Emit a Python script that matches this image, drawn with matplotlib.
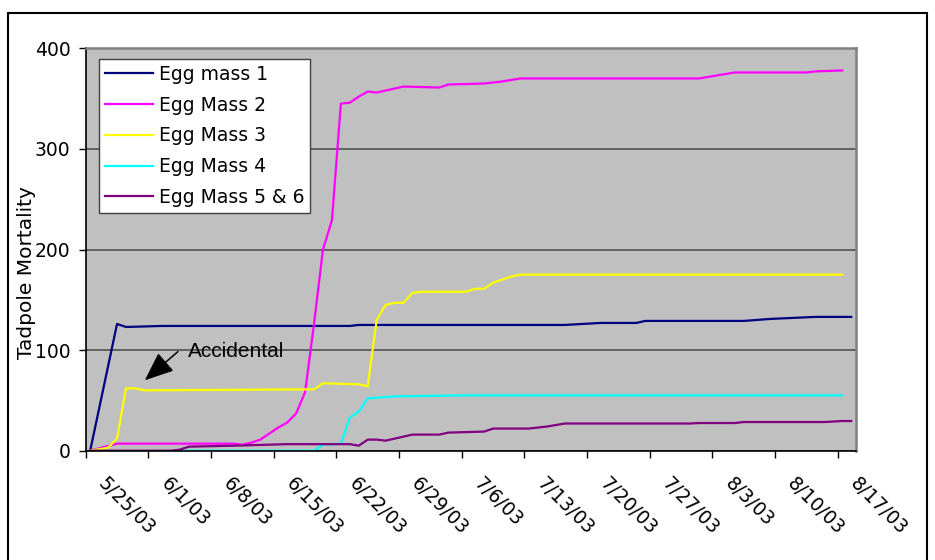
import numpy as np
import matplotlib
matplotlib.use("Agg")
import matplotlib.pyplot as plt
import matplotlib.transforms as mtransforms
from matplotlib.patches import Rectangle

# day offsets from 5/25/03
EGG1_DAY = [0, 3, 4, 8, 29, 30, 53, 57, 61, 62, 73, 76, 81, 85]
EGG1_VAL = [0, 126, 123, 124, 124, 125, 125, 127, 127, 129, 129, 131, 133, 133]

EGG2_DAY = [0, 3, 16, 17, 18, 19, 20, 21, 22, 23, 24, 25, 26, 27, 28, 29, 30, 31,
            32, 35, 39, 40, 44, 46, 48, 68, 72, 80, 81, 84]
EGG2_VAL = [0, 7, 7, 6, 8, 11, 17, 23, 28, 37, 58, 126, 200, 229, 345, 346, 352, 357,
            356, 362, 361, 364, 365, 367, 370, 370, 376, 376, 377, 378]

EGG3_DAY = [0, 2, 3, 4, 5, 6, 25, 26, 30, 31, 32, 33, 34, 35, 36, 37, 42, 43, 44,
            45, 46, 47, 48, 84]
EGG3_VAL = [0, 3, 12, 62, 62, 60, 61, 67, 66, 64, 130, 145, 147, 147, 157, 158, 158,
            161, 161, 167, 170, 173, 175, 175]

EGG4_DAY = [10, 25, 26, 28, 29, 30, 31, 34, 42, 84]
EGG4_VAL = [0, 0, 6, 7, 33, 39, 52, 54, 55, 55]

EGG5_DAY = [0, 9, 10, 11, 16, 22, 29, 30, 31, 32, 33, 34, 36, 39, 40, 44, 45, 49,
            51, 53, 67, 68, 72, 73, 82, 84, 85]
EGG5_VAL = [0, 0, 1, 4, 5, 6.5, 6.5, 5, 11, 11, 10, 12, 16, 16, 18, 19, 22, 22,
            24, 27, 27, 27.5, 27.5, 28.5, 28.5, 29.5, 29.5]

SERIES = [
    ("Egg mass 1", EGG1_DAY, EGG1_VAL, "#000080"),
    ("Egg Mass 2", EGG2_DAY, EGG2_VAL, "#FF00FF"),
    ("Egg Mass 3", EGG3_DAY, EGG3_VAL, "#FFFF00"),
    ("Egg Mass 4", EGG4_DAY, EGG4_VAL, "#00FFFF"),
    ("Egg Mass 5 & 6", EGG5_DAY, EGG5_VAL, "#800080"),
]

TICK_DAYS = [0, 7, 14, 21, 28, 35, 42, 49, 56, 63, 70, 77, 84]
TICK_LABELS = ["5/25/03", "6/1/03", "6/8/03", "6/15/03", "6/22/03", "6/29/03",
               "7/6/03", "7/13/03", "7/20/03", "7/27/03", "8/3/03", "8/10/03",
               "8/17/03"]
Y_TICKS = [0, 100, 200, 300, 400]

W, H = 935, 560
fig = plt.figure(figsize=(W / 100, H / 100), dpi=100)
plt.rcParams['font.family'] = ['DejaVu Sans']

# plot area in pixels
left, right, top, bottom = 85.7, 855.7, 48.3, 450.7
ax = fig.add_axes([left / W, 1 - bottom / H, (right - left) / W, (bottom - top) / H])
ax.set_facecolor("#C0C0C0")

for name, d, v, c in SERIES:
    # Excel puts each date in the middle of its day slot
    ax.plot(np.array(d) + 0.5, v, color=c, lw=1.6, label=name, solid_joinstyle="round")

ax.set_xlim(0, 86)
ax.set_ylim(0, 400)
ax.set_yticks(Y_TICKS)
ax.set_xticks(TICK_DAYS)
ax.set_xticklabels(TICK_LABELS)
ax.yaxis.grid(True, color="#5a5a5a", lw=1.3)
ax.set_axisbelow(True)

for s in ["top", "right"]:
    ax.spines[s].set_color("#808080")
    ax.spines[s].set_linewidth(1.8)
for s in ["left", "bottom"]:
    ax.spines[s].set_color("black")
    ax.spines[s].set_linewidth(1.2)

ax.tick_params(axis="both", direction="out", length=5, width=1, labelsize=13.5, color="black")
ax.tick_params(axis="y", pad=6)

offset = mtransforms.ScaledTranslation(22 / 100, -11 / 100, fig.dpi_scale_trans)
for lab in ax.get_xticklabels():
    lab.set_rotation(-45)
    lab.set_rotation_mode("anchor")
    lab.set_ha("left")
    lab.set_va("top")
    lab.set_transform(lab.get_transform() + offset)

fig.text(27 / W, 1 - 273 / H, "Tadpole Mortality", rotation=90, ha="center", va="center",
         fontsize=14.5)

leg = ax.legend(loc="upper left", bbox_to_anchor=(0.0173, 0.973), borderaxespad=0,
                fontsize=13.5, handlelength=2.6, handletextpad=0.3, borderpad=0.3,
                labelspacing=0.63, fancybox=False, framealpha=1, edgecolor="#404040")
leg.get_frame().set_linewidth(1.0)

# "Accidental" note with arrow
ax.annotate("", xy=(6.6, 70), xytext=(10.3, 98.5),
            arrowprops=dict(arrowstyle="-|>,head_length=0.9,head_width=0.37",
                            mutation_scale=20, color="black", lw=1.1,
                            shrinkA=0, shrinkB=0))
ax.text(11.4, 93, "Accidental", fontsize=15, family="Liberation Sans",
        ha="left", va="baseline")

# outer chart frame
fig.add_artist(Rectangle((8 / W, -0.05), (927 - 8) / W, 1.05 - 13 / H,
                         transform=fig.transFigure, fill=False, ec="black", lw=1.5))

fig.savefig("out.png", dpi=100)
